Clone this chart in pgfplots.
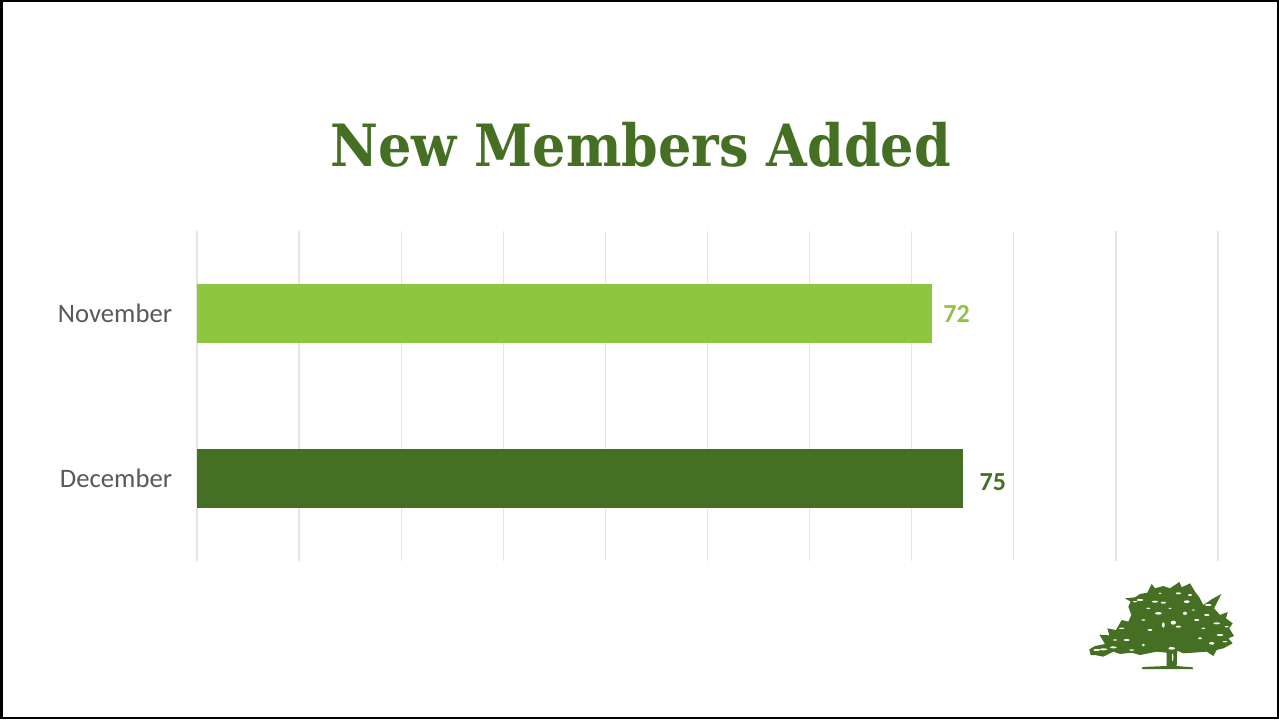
\documentclass[border=0pt]{standalone}
\usepackage{pgfplots}
\pgfplotsset{compat=1.18}
\usepackage{fontspec}
\setmainfont{Carlito}
\newfontfamily\titlefont{DejaVu Serif Condensed}
\definecolor{darkg}{HTML}{457024}
\definecolor{lightg}{HTML}{8EC640}
\definecolor{gridc}{HTML}{E6E6E6}
\definecolor{labelc}{HTML}{595959}
\begin{document}
\begin{tikzpicture}[x=1pt,y=1pt]
\useasboundingbox (0,0) rectangle (959.25,539.25);
\fill[white] (0,0) rectangle (959.25,539.25);
\begin{axis}[
  at={(147.75pt,118.5pt)}, anchor=south west,
  scale only axis, width=765.75pt, height=247.5pt,
  xmin=0, xmax=100, ymin=0.5, ymax=2.5, y dir=reverse,
  axis line style={draw=none},
  xtick={0,10,...,100}, xticklabels={},
  xmajorgrids, grid style={gridc, line width=1pt},
  major tick length=0pt,
  ytick={1,2}, yticklabels={November,December},
  yticklabel style={font=\fontsize{20pt}{22pt}\selectfont, text=labelc},
  tick label style={inner sep=0pt},
  ylabel={}, xlabel={},
  clip=false,
  xbar, bar width=44.25pt, bar shift=0pt,
  nodes near coords,
  point meta=explicit symbolic,
  nodes near coords align={anchor=west},
  y tick label style={xshift=-18.5pt},
]
\addplot[fill=lightg, draw=none, every node near coord/.append style={font=\fontsize{19.5pt}{22pt}\selectfont\bfseries, text=lightg, xshift=8.3pt, inner sep=0pt}] coordinates {(72,1) [72]};
\addplot[fill=darkg, draw=none, every node near coord/.append style={font=\fontsize{19.5pt}{22pt}\selectfont\bfseries, text=darkg, xshift=12.5pt, yshift=-3pt, inner sep=0pt}] coordinates {(75,2) [75]};
\end{axis}
\node[anchor=base, text=darkg, inner sep=0pt, font=\fontsize{43.7pt}{50pt}\selectfont\titlefont\bfseries] at (480.5,414.5) {New Members Added};
\draw[black, line width=1.5pt] (1,0.75) rectangle (958.5,538.5);
\draw[black, line width=2.2pt] (1.1,0) -- (1.1,539.25);
% tree logo
\begin{scope}[shift={(795,119.25)}, x=0.25pt, y=-0.25pt]
\fill[darkg] (88,268)--(105,258)--(135,252)--(118,224)--(148,226)--(142,205)--(168,210)--(185,180)--(205,185)--(214,165)--(205,140)--(212,125)--(195,115)--(225,112)--(240,102)--(262,98)--(275,72)--(285,85)--(310,78)--(330,85)--(358,66)--(365,82)--(390,70)--(405,95)--(418,112)--(430,135)--(455,118)--(484,102)--(470,130)--(462,145)--(480,165)--(503,156)--(498,175)--(518,190)--(508,205)--(522,228)--(505,235)--(518,250)--(490,265)--(470,270)--(460,288)--(440,275)--(400,278)--(370,280)--(352,272)--(350,318)--(398,322)--(400,327)--(245,327)--(248,321)--(320,318)--(320,278)--(290,275)--(240,285)--(215,278)--(180,282)--(160,275)--(130,290)--(105,285)--(92,285)--cycle;
\foreach \a/\b/\c/\d in {285/125/9/3,310/128/8/3,355/100/8/3,380/125/9/4,390/105/6/3,295/160/10/4,340/188/8/6,310/195/4/8,375/160/6/5,410/180/8/3,270/210/7/3,355/200/8/3,440/165/8/3,470/190/10/3,480/225/10/3,455/250/8/4,420/235/6/3,200/240/9/3,160/262/10/3,130/268/12/3,110/270/10/3,250/255/5/4,335/265/10/4,338/292/2/12,240/120/10/3,445/135/10/3,300/100/5/2,250/180/6/2,400/150/5/2,225/125/6/2,185/205/8/2,165/240/6/2,215/270/8/2,430/205/6/2,500/200/6/2,495/245/7/2,265/145/6/2,330/145/5/2}
  \fill[white] (\a,\b) ellipse[x radius=\c, y radius=\d];
\end{scope}
\end{tikzpicture}
\end{document}
